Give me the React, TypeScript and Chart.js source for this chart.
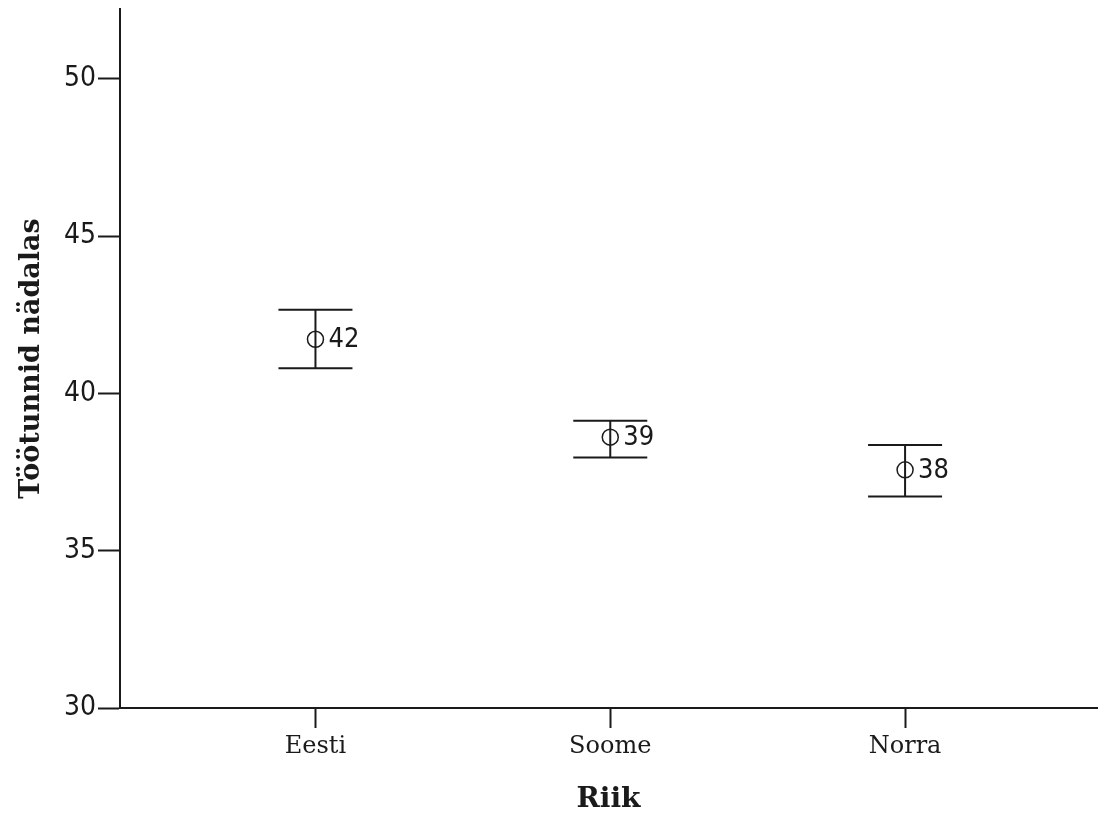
import React, { useEffect, useRef } from "react";
import { Chart, registerables } from "chart.js";

Chart.register(...registerables);

const categories = ["Eesti", "Soome", "Norra"];
const means = [41.72, 38.61, 37.57];
const upper = [42.66, 39.13, 38.36];
const lower = [40.8, 37.96, 36.72];
const meanLabels = ["42", "39", "38"];
const yTicks = [30, 35, 40, 45, 50];
const yMin = 30;
const yMax = 52.22;
const xMin = 0.337;
const xMax = 3.651;

const INK = "#1a1a1a";
const NUM_FONT = "'Liberation Sans Narrow', 'DejaVu Sans Condensed', sans-serif";

const errorBarPlugin = {
  id: "errorBars",
  afterDatasetsDraw(chart: any) {
    const { ctx, scales } = chart;
    const xs = scales.x;
    const ys = scales.y;
    ctx.save();
    ctx.strokeStyle = INK;
    ctx.lineWidth = 2;
    const capHalf = 0.1255;
    categories.forEach((_, i) => {
      const xv = i + 1;
      const px = xs.getPixelForValue(xv);
      const pu = ys.getPixelForValue(upper[i]);
      const pl = ys.getPixelForValue(lower[i]);
      const cl = xs.getPixelForValue(xv - capHalf);
      const cr = xs.getPixelForValue(xv + capHalf);
      ctx.beginPath();
      ctx.moveTo(px, pu);
      ctx.lineTo(px, pl);
      ctx.moveTo(cl, pu);
      ctx.lineTo(cr, pu);
      ctx.moveTo(cl, pl);
      ctx.lineTo(cr, pl);
      ctx.stroke();
      const pm = ys.getPixelForValue(means[i]);
      ctx.fillStyle = INK;
      ctx.font = `27px ${NUM_FONT}`;
      ctx.textAlign = "left";
      ctx.textBaseline = "middle";
      ctx.fillText(meanLabels[i], px + 13, pm + 1);
    });
    ctx.restore();
  },
};

export default function App() {
  const ref = useRef<HTMLCanvasElement | null>(null);
  useEffect(() => {
    if (!ref.current) return;
    const chart = new Chart(ref.current, {
      type: "scatter",
      data: {
        datasets: [
          {
            label: "mean",
            data: means.map((m, i) => ({ x: i + 1, y: m })),
            pointStyle: "circle",
            pointRadius: 8,
            pointBorderWidth: 1.5,
            borderColor: INK,
            backgroundColor: "rgba(0,0,0,0)",
            pointBackgroundColor: "rgba(0,0,0,0)",
            pointBorderColor: INK,
          },
        ],
      },
      options: {
        animation: false,
        responsive: true,
        maintainAspectRatio: false,
        layout: { autoPadding: false, padding: { top: 9, right: 1, left: 0, bottom: 0 } },
        plugins: { legend: { display: false }, tooltip: { enabled: false } },
        scales: {
          x: {
            type: "linear",
            min: xMin,
            max: xMax,
            afterBuildTicks: (s: any) => {
              s.ticks = categories.map((_, i) => ({ value: i + 1 }));
            },
            afterFit: (s: any) => {
              s.height = 111;
              s.paddingLeft = 0;
              s.paddingRight = 0;
            },
            grid: {
              drawOnChartArea: false,
              drawTicks: true,
              tickLength: 20,
              tickWidth: 2,
              tickColor: INK,
            },
            border: { display: true, color: INK, width: 2 },
            ticks: {
              autoSkip: false,
              maxRotation: 0,
              padding: 4,
              color: INK,
              font: { family: "'DejaVu Serif', serif", size: 24 },
              callback: (v: any) => categories[Math.round(Number(v)) - 1] ?? "",
            },
            title: {
              display: true,
              text: "Riik",
              color: INK,
              font: { family: "'DejaVu Serif', serif", size: 28, weight: "bold" },
              padding: { top: 0, bottom: 2 },
            },
          },
          y: {
            type: "linear",
            min: yMin,
            max: yMax,
            afterBuildTicks: (s: any) => {
              s.ticks = yTicks.map((v) => ({ value: v }));
            },
            afterFit: (s: any) => {
              s.width = 120;
              s.paddingTop = 0;
              s.paddingBottom = 0;
            },
            grid: {
              drawOnChartArea: false,
              drawTicks: true,
              tickLength: 22,
              tickWidth: 2,
              tickColor: INK,
            },
            border: { display: true, color: INK, width: 2 },
            ticks: {
              padding: 2,
              color: INK,
              font: { family: NUM_FONT, size: 28 },
              callback: (v: any) => String(v),
            },
            title: {
              display: true,
              text: "Töötunnid nädalas",
              color: INK,
              font: { family: "'DejaVu Serif', serif", size: 27, weight: "bold" },
              padding: { top: 16, bottom: 0 },
            },
          },
        },
      },
      plugins: [errorBarPlugin],
    } as any);
    return () => chart.destroy();
  }, []);
  return (
    <div style={{ position: "absolute", left: 0, top: 0, width: 1098, height: 819, background: "#fff" }}>
      <canvas ref={ref} />
    </div>
  );
}
